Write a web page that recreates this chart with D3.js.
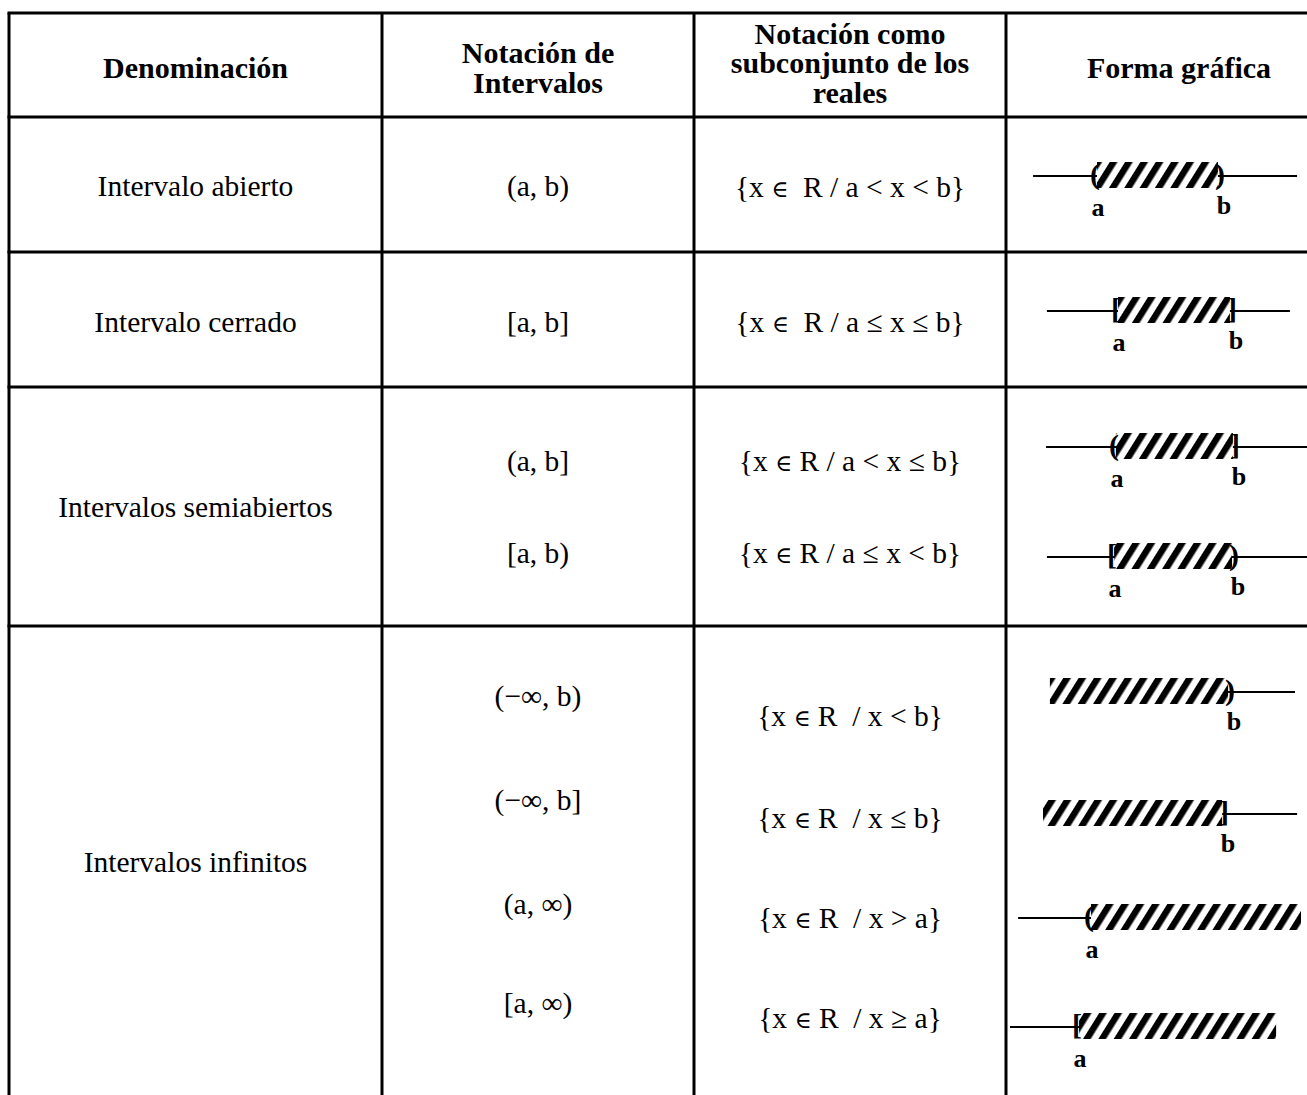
<!DOCTYPE html>
<html>
<head>
<meta charset="utf-8">
<script src="https://cdn.jsdelivr.net/npm/d3@7/dist/d3.min.js"></script>
<style>
  html, body { margin: 0; padding: 0; background: #fff; }
  svg { display: block; }
  text { font-family: "Liberation Serif", "Times New Roman", serif; fill: #000; }
</style>
</head>
<body>
<svg id="chart" width="1307" height="1095"></svg>
<script>
// ---------------- DATA ----------------
const headers = [
  ["Denominación"],
  ["Notación de", "Intervalos"],
  ["Notación como", "subconjunto de los", "reales"],
  ["Forma gráfica"]
];
const denominations = ["Intervalo abierto", "Intervalo cerrado", "Intervalos semiabiertos", "Intervalos infinitos"];
const groupSizes = [1, 1, 2, 4];
const intervalNotation = ["(a, b)", "[a, b]", "(a, b]", "[a, b)", "(−∞, b)", "(−∞, b]", "(a, ∞)", "[a, ∞)"];
const setNotation = [
  "{x ∈  R / a < x < b}",
  "{x ∈  R / a ≤ x ≤ b}",
  "{x ∈ R / a < x ≤ b}",
  "{x ∈ R / a ≤ x < b}",
  "{x ∈ R  / x < b}",
  "{x ∈ R  / x ≤ b}",
  "{x ∈ R  / x > a}",
  "{x ∈ R  / x ≥ a}"
];
// graphic number line (abstract units 0..100 across the graphic column)
const leftSymbol  = ["(", "[", "(", "[", null, null, "(", "["];
const rightSymbol = [")", "]", "]", ")", ")", "]", null, null];
const aValue      = [30, 37, 36.3, 35.7, null, null, 28, 24];
const bValue      = [70.3, 74.3, 75.3, 75, 73.7, 71.7, null, null];
const lineFrom    = [8.7, 13.3, 13, 13.3, 73.7, 71.7, 3.7, 1];
const lineTo      = [96.7, 94.3, 100, 100, 96, 96.7, 28, 24];
const shadeFrom   = [30, 37, 36.3, 35.7, 14.3, 12, 28, 24];
const shadeTo     = [70.3, 74.3, 75.3, 75, 73.7, 71.7, 98, 89.7];

// ---------------- LAYOUT ----------------
const layout = {
  colEdges: [9, 382, 694, 1006, 1352],
  top: 13,
  headerBottom: 117,
  groupBottoms: [252, 387, 626, 1140],
  headerLineY: [[67], [52, 82], [33, 62, 92], [67]],
  groupTextY: [186, 322, 507, 862],
  notationY: [186, 322, 461, 553, 696, 800, 904, 1003],
  setY:      [187, 322, 461, 553, 716, 818, 918, 1018],
  graphicLineY: [176, 311, 447, 557, 692, 814, 918, 1027],
  headFont: 30,
  bodyFont: 29.5,
  border: 3
};

const svg = d3.select("#chart");
const W = 1307, H = 1095;
const x = d3.scaleLinear().domain([0, 100]).range([layout.colEdges[3] + 1, W]);
const colCenter = i => (layout.colEdges[i] + layout.colEdges[i + 1]) / 2;

// hatch pattern
const defs = svg.append("defs");
const hw = 13;
const pat = defs.append("pattern")
  .attr("id", "hatch")
  .attr("patternUnits", "userSpaceOnUse")
  .attr("width", hw).attr("height", hw)
  .attr("patternTransform", "rotate(32)");
pat.append("rect").attr("width", hw).attr("height", hw).attr("fill", "#fff");
pat.append("rect").attr("x", 0).attr("width", 6.5).attr("height", hw).attr("fill", "#000");

// ---------- table grid ----------
const grid = svg.append("g").attr("stroke", "#000").attr("stroke-width", layout.border).attr("fill", "none");
const bottom = H + 50;
layout.colEdges.forEach(cx => {
  grid.append("line").attr("x1", cx).attr("x2", cx).attr("y1", layout.top).attr("y2", bottom);
});
[layout.top, layout.headerBottom, ...layout.groupBottoms].forEach(yy => {
  grid.append("line").attr("x1", layout.colEdges[0] - 1.5).attr("x2", layout.colEdges[4] + 1.5).attr("y1", yy).attr("y2", yy);
});

// ---------- header ----------
headers.forEach((lines, ci) => {
  lines.forEach((t, li) => {
    svg.append("text")
      .attr("x", colCenter(ci))
      .attr("y", layout.headerLineY[ci][li])
      .attr("dy", "0.35em")
      .attr("text-anchor", "middle")
      .attr("font-weight", "bold")
      .attr("font-size", layout.headFont)
      .text(t);
  });
});

// ---------- body text ----------
const fs = layout.bodyFont;
function addText(t, cx, cy) {
  const el = svg.append("text")
    .attr("x", cx).attr("y", cy).attr("dy", "0.35em")
    .attr("text-anchor", "middle").attr("font-size", fs)
    .attr("xml:space", "preserve").style("white-space", "pre");
  // render the "element of" sign a bit smaller, like the Times glyph
  t.split(/(∈)/).forEach(part => {
    if (!part) return;
    const ts = el.append("tspan").text(part);
    if (part === "∈") ts.attr("font-size", fs * 0.78).attr("font-family", "DejaVu Serif");
  });
  return el;
}
denominations.forEach((t, gi) => addText(t, colCenter(0), layout.groupTextY[gi]));
intervalNotation.forEach((t, i) => addText(t, colCenter(1), layout.notationY[i]));
setNotation.forEach((t, i) => addText(t, colCenter(2), layout.setY[i]));

// ---------- graphics ----------
const rectH = 26;
intervalNotation.forEach((_, i) => {
  const g = svg.append("g");
  const ly = layout.graphicLineY[i];
  g.append("line")
    .attr("x1", x(lineFrom[i])).attr("x2", x(lineTo[i]))
    .attr("y1", ly).attr("y2", ly)
    .attr("stroke", "#000").attr("stroke-width", 2);
  g.append("rect")
    .attr("x", x(shadeFrom[i])).attr("y", ly - rectH / 2 - 1)
    .attr("width", x(shadeTo[i]) - x(shadeFrom[i])).attr("height", rectH)
    .attr("fill", "url(#hatch)");
  if (leftSymbol[i]) {
    g.append("text")
      .attr("x", x(aValue[i]) + 3).attr("y", ly + 8)
      .attr("text-anchor", "end").attr("font-weight", "bold").attr("font-size", 30)
      .text(leftSymbol[i]);
    g.append("text")
      .attr("x", x(aValue[i]) + 1).attr("y", ly + 40)
      .attr("text-anchor", "middle").attr("font-weight", "bold").attr("font-size", 26)
      .text("a");
  }
  if (rightSymbol[i]) {
    g.append("text")
      .attr("x", x(bValue[i]) - 3).attr("y", ly + 8)
      .attr("text-anchor", "start").attr("font-weight", "bold").attr("font-size", 30)
      .text(rightSymbol[i]);
    g.append("text")
      .attr("x", x(bValue[i]) + 6).attr("y", ly + 38)
      .attr("text-anchor", "middle").attr("font-weight", "bold").attr("font-size", 26)
      .text("b");
  }
});
</script>
</body>
</html>
